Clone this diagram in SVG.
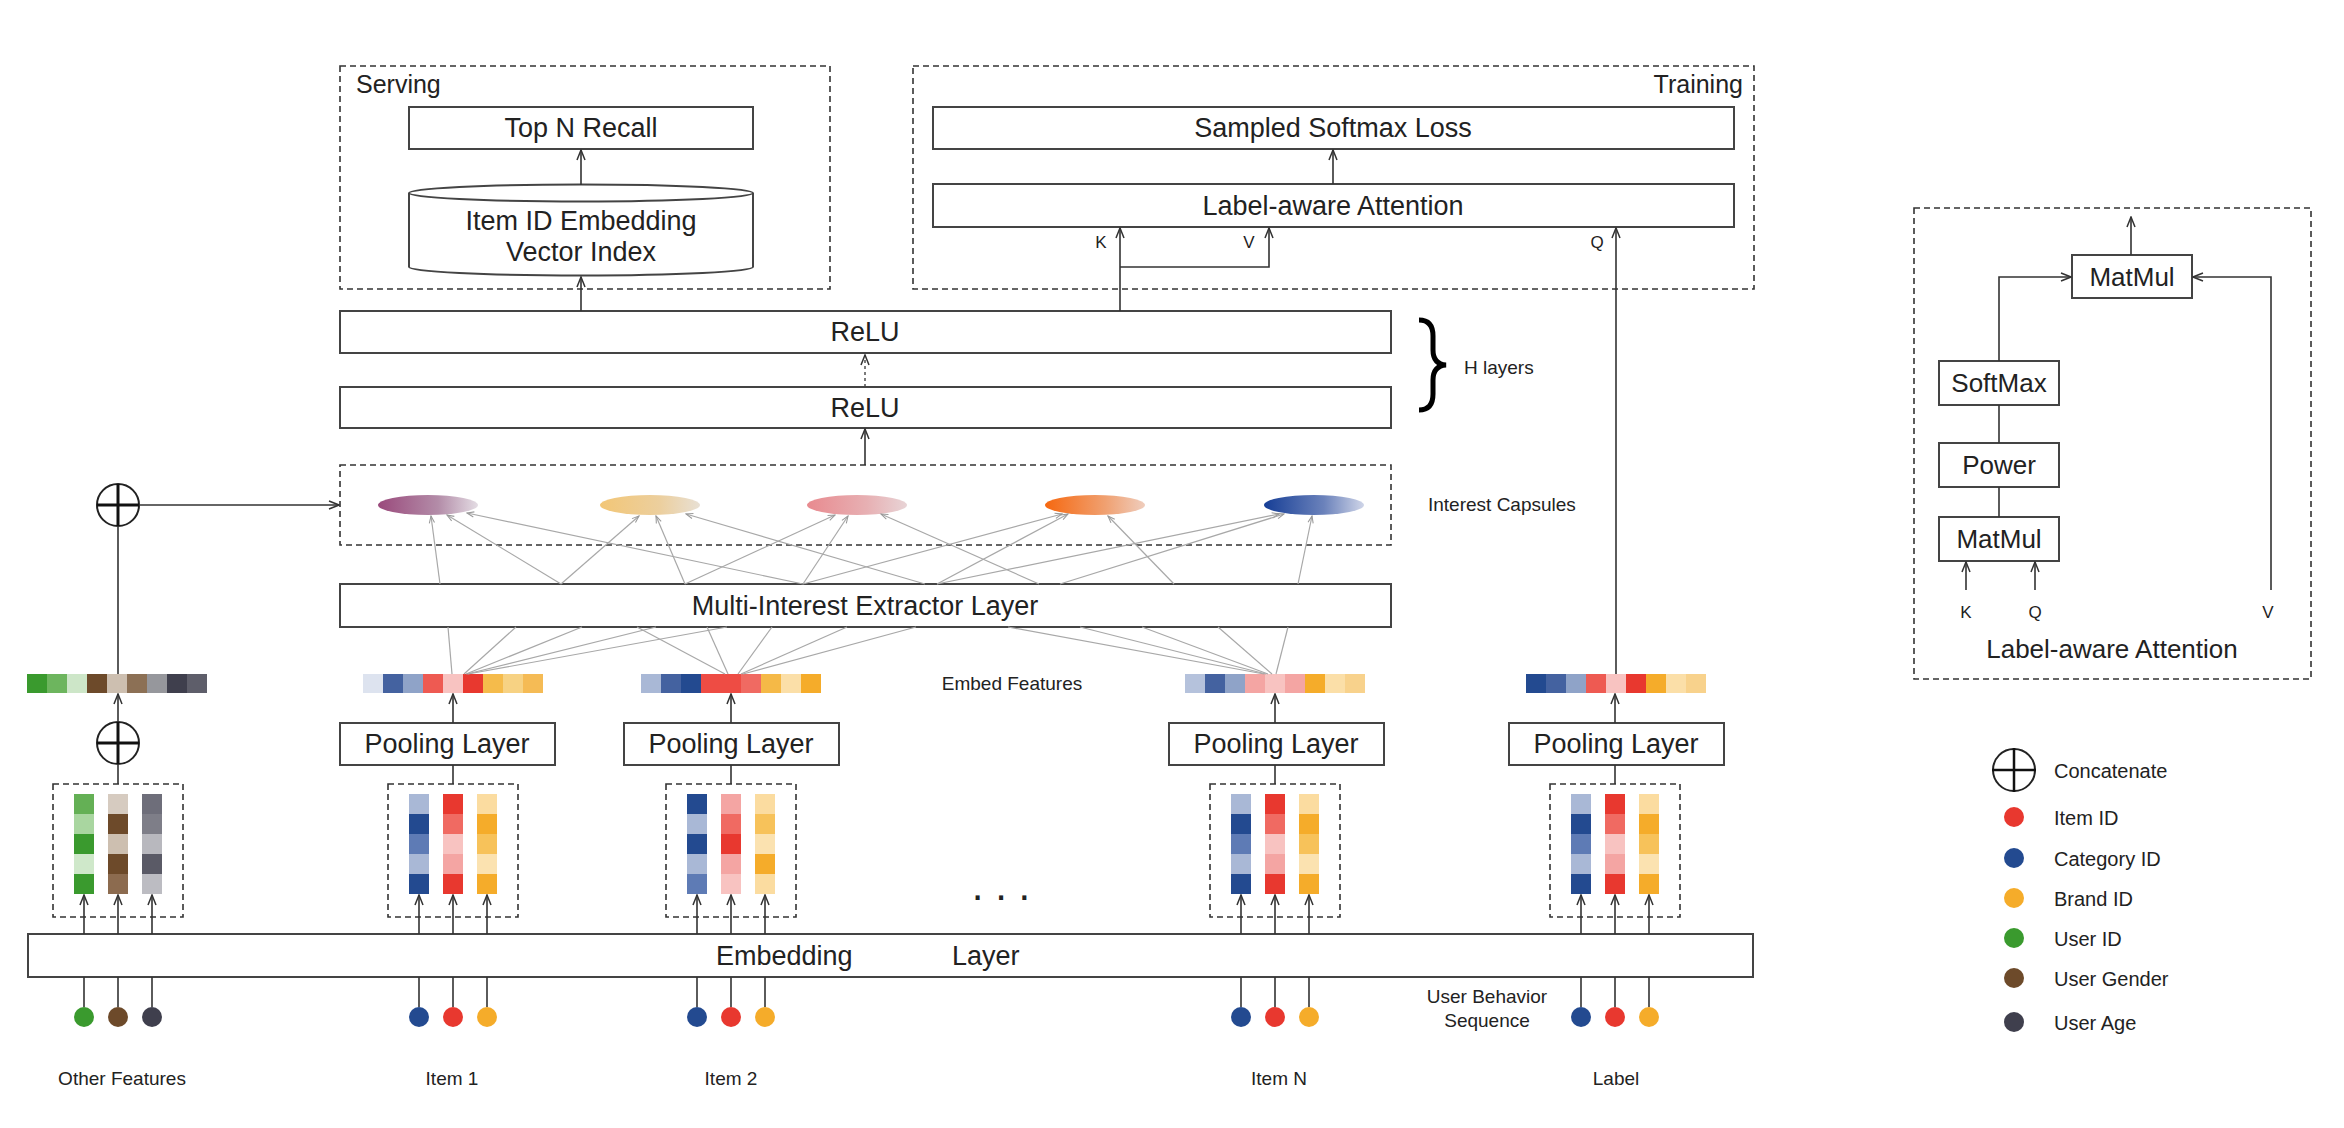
<svg xmlns="http://www.w3.org/2000/svg" width="2344" height="1128" viewBox="0 0 2344 1128">
<style>
.box{fill:#fff;stroke:#444;stroke-width:2}
.dash{fill:none;stroke:#333;stroke-width:1.6;stroke-dasharray:6 4}
.t{font-family:"Liberation Sans",Arial,sans-serif;fill:#222}
.lbl{font-size:27px;text-anchor:middle}
.sm{font-size:19px}
.mid{text-anchor:middle}
.ln{stroke:#333;stroke-width:1.6;fill:none}
.cap{stroke:#a8a8a8;stroke-width:1.2;fill:none}
.cc{fill:#fff;stroke:#222;stroke-width:2}
.cx{stroke:#111;stroke-width:3}
</style>
<defs>
<marker id="a" markerUnits="userSpaceOnUse" viewBox="0 0 12 10" refX="11" refY="5" markerWidth="12" markerHeight="10" orient="auto"><path d="M1,1 L11,5 L1,9" fill="none" stroke="#333" stroke-width="1.5"/></marker>
<marker id="g" markerUnits="userSpaceOnUse" viewBox="0 0 10 8" refX="9" refY="4" markerWidth="9" markerHeight="7" orient="auto"><path d="M1,1 L9,4 L1,7" fill="none" stroke="#999" stroke-width="1.2"/></marker>
<linearGradient id="gp"><stop offset="0" stop-color="#9a4a7c"/><stop offset="0.6" stop-color="#b38ca8"/><stop offset="1" stop-color="#e4dde4"/></linearGradient>
<linearGradient id="gy"><stop offset="0" stop-color="#f2c676"/><stop offset="0.6" stop-color="#eccf9e"/><stop offset="1" stop-color="#e8e0d4"/></linearGradient>
<linearGradient id="gk"><stop offset="0" stop-color="#e88a8f"/><stop offset="0.6" stop-color="#e7b0b3"/><stop offset="1" stop-color="#e8d4d6"/></linearGradient>
<linearGradient id="go"><stop offset="0" stop-color="#f66810"/><stop offset="0.6" stop-color="#f0a070"/><stop offset="1" stop-color="#efcdbd"/></linearGradient>
<linearGradient id="gb"><stop offset="0" stop-color="#163e96"/><stop offset="0.6" stop-color="#6b82bb"/><stop offset="1" stop-color="#cfd5e8"/></linearGradient>
</defs>

<g id="serving">
<rect class="dash" x="340" y="66" width="490" height="223"/>
<text class="t" x="356" y="93" font-size="25">Serving</text>
</g>
<g id="top-n-recall">
<rect class="box" x="409" y="107" width="344" height="42"/>
<text class="t lbl" x="581" y="137">Top N Recall</text>
</g>
<g id="item-index">
<path class="box" d="M409,193 L409,267 A172,8.5 0 0 0 753,267 L753,193 A172,8.5 0 0 0 409,193 Z"/>
<path d="M409,193 A172,8.5 0 0 0 753,193" fill="none" stroke="#444" stroke-width="2"/>
<text class="t lbl" x="581" y="230">Item ID Embedding</text>
<text class="t lbl" x="581" y="261">Vector Index</text>
</g>

<g id="training">
<rect class="dash" x="913" y="66" width="841" height="223"/>
<text class="t" x="1743" y="93" font-size="25" text-anchor="end">Training</text>
</g>
<g id="sampled-softmax">
<rect class="box" x="933" y="107" width="801" height="42"/>
<text class="t lbl" x="1333" y="137">Sampled Softmax Loss</text>
</g>
<g id="label-aware-attention">
<rect class="box" x="933" y="184" width="801" height="43"/>
<text class="t lbl" x="1333" y="215">Label-aware Attention</text>
</g>

<g id="relu1">
<rect class="box" x="340" y="311" width="1051" height="42"/>
<text class="t lbl" x="865" y="341">ReLU</text>
</g>
<g id="relu2">
<rect class="box" x="340" y="387" width="1051" height="41"/>
<text class="t lbl" x="865" y="417">ReLU</text>
</g>
<g id="h-layers">
<path d="M1419,320 Q1433,320 1433,336 L1433,350 Q1433,364 1446,365 Q1433,366 1433,380 L1433,394 Q1433,410 1419,410" fill="none" stroke="#000" stroke-width="5"/>
<text class="t sm" x="1464" y="374">H layers</text>
</g>

<g id="interest-capsules">
<rect class="dash" x="340" y="465" width="1051" height="80"/>
<ellipse cx="428" cy="505" rx="50" ry="10" fill="url(#gp)"/>
<ellipse cx="650" cy="505" rx="50" ry="10" fill="url(#gy)"/>
<ellipse cx="857" cy="505" rx="50" ry="10" fill="url(#gk)"/>
<ellipse cx="1095" cy="505" rx="50" ry="10" fill="url(#go)"/>
<ellipse cx="1314" cy="505" rx="50" ry="10" fill="url(#gb)"/>
<text class="t sm" x="1428" y="511">Interest Capsules</text>
</g>

<g id="extractor">
<rect class="box" x="340" y="584" width="1051" height="43"/>
<text class="t lbl" x="865" y="615">Multi-Interest Extractor Layer</text>
</g>

<g id="embed-bars">
<g id="bar-other">
<rect x="27" y="674" width="20" height="19" fill="#3a9a2e"/><rect x="47" y="674" width="20" height="19" fill="#6db55e"/><rect x="67" y="674" width="20" height="19" fill="#cde6c8"/><rect x="87" y="674" width="20" height="19" fill="#6d4a2a"/><rect x="107" y="674" width="20" height="19" fill="#cdbfb0"/><rect x="127" y="674" width="20" height="19" fill="#8c7055"/><rect x="147" y="674" width="20" height="19" fill="#96979c"/><rect x="167" y="674" width="20" height="19" fill="#3f3f4d"/><rect x="187" y="674" width="20" height="19" fill="#5e5e6a"/>
</g>
<g id="bar-item1">
<rect x="363" y="674" width="20" height="19" fill="#dde3ef"/><rect x="383" y="674" width="20" height="19" fill="#4462a0"/><rect x="403" y="674" width="20" height="19" fill="#8fa3c8"/><rect x="423" y="674" width="20" height="19" fill="#ee5a52"/><rect x="443" y="674" width="20" height="19" fill="#f8c3c1"/><rect x="463" y="674" width="20" height="19" fill="#e8382f"/><rect x="483" y="674" width="20" height="19" fill="#f5bb4b"/><rect x="503" y="674" width="20" height="19" fill="#f7d283"/><rect x="523" y="674" width="20" height="19" fill="#f5bb55"/>
</g>
<g id="bar-item2">
<rect x="641" y="674" width="20" height="19" fill="#a9b8d6"/><rect x="661" y="674" width="20" height="19" fill="#4462a0"/><rect x="681" y="674" width="20" height="19" fill="#234a90"/><rect x="701" y="674" width="20" height="19" fill="#ee4c44"/><rect x="721" y="674" width="20" height="19" fill="#ee4c44"/><rect x="741" y="674" width="20" height="19" fill="#f06a62"/><rect x="761" y="674" width="20" height="19" fill="#f5b947"/><rect x="781" y="674" width="20" height="19" fill="#fbdfa8"/><rect x="801" y="674" width="20" height="19" fill="#f5ac2a"/>
</g>
<g id="bar-itemN">
<rect x="1185" y="674" width="20" height="19" fill="#b5c2dc"/><rect x="1205" y="674" width="20" height="19" fill="#4462a0"/><rect x="1225" y="674" width="20" height="19" fill="#8fa3c8"/><rect x="1245" y="674" width="20" height="19" fill="#f4a5a3"/><rect x="1265" y="674" width="20" height="19" fill="#f8c3c1"/><rect x="1285" y="674" width="20" height="19" fill="#f4a5a3"/><rect x="1305" y="674" width="20" height="19" fill="#f5ac2a"/><rect x="1325" y="674" width="20" height="19" fill="#fbdfa8"/><rect x="1345" y="674" width="20" height="19" fill="#f8d28c"/>
</g>
<g id="bar-label">
<rect x="1526" y="674" width="20" height="19" fill="#234a90"/><rect x="1546" y="674" width="20" height="19" fill="#4462a0"/><rect x="1566" y="674" width="20" height="19" fill="#8fa3c8"/><rect x="1586" y="674" width="20" height="19" fill="#ee5a52"/><rect x="1606" y="674" width="20" height="19" fill="#f8c3c1"/><rect x="1626" y="674" width="20" height="19" fill="#e8382f"/><rect x="1646" y="674" width="20" height="19" fill="#f5ac2a"/><rect x="1666" y="674" width="20" height="19" fill="#fbdfa8"/><rect x="1686" y="674" width="20" height="19" fill="#f8d28c"/>
</g>
<text class="t sm mid" x="1012" y="690">Embed Features</text>
</g>

<g id="pooling-item1"><rect class="box" x="340" y="723" width="215" height="42"/><text class="t lbl" x="447" y="753">Pooling Layer</text></g>
<g id="pooling-item2"><rect class="box" x="624" y="723" width="215" height="42"/><text class="t lbl" x="731" y="753">Pooling Layer</text></g>
<g id="pooling-itemN"><rect class="box" x="1169" y="723" width="215" height="42"/><text class="t lbl" x="1276" y="753">Pooling Layer</text></g>
<g id="pooling-label"><rect class="box" x="1509" y="723" width="215" height="42"/><text class="t lbl" x="1616" y="753">Pooling Layer</text></g>

<g id="concat-top">
<circle class="cc" cx="118" cy="505" r="21"/>
<line class="cx" x1="97" y1="505" x2="139" y2="505"/><line class="cx" x1="118" y1="484" x2="118" y2="526"/>
</g>
<g id="concat-bottom">
<circle class="cc" cx="118" cy="743" r="21"/>
<line class="cx" x1="97" y1="743" x2="139" y2="743"/><line class="cx" x1="118" y1="722" x2="118" y2="764"/>
</g>

<g id="cols-other">
<rect class="dash" x="53" y="784" width="130" height="133"/>
<rect x="74" y="794" width="20" height="20" fill="#64b055"/><rect x="74" y="814" width="20" height="20" fill="#a9d6a0"/><rect x="74" y="834" width="20" height="20" fill="#3a9a2e"/><rect x="74" y="854" width="20" height="20" fill="#cfe8ca"/><rect x="74" y="874" width="20" height="20" fill="#3a9a2e"/>
<rect x="108" y="794" width="20" height="20" fill="#d6cbc0"/><rect x="108" y="814" width="20" height="20" fill="#6d4a2a"/><rect x="108" y="834" width="20" height="20" fill="#cdbfb0"/><rect x="108" y="854" width="20" height="20" fill="#6d4a2a"/><rect x="108" y="874" width="20" height="20" fill="#8c6b4f"/>
<rect x="142" y="794" width="20" height="20" fill="#6e6e7a"/><rect x="142" y="814" width="20" height="20" fill="#7e7e88"/><rect x="142" y="834" width="20" height="20" fill="#b8b8be"/><rect x="142" y="854" width="20" height="20" fill="#5a5a66"/><rect x="142" y="874" width="20" height="20" fill="#bcbcc2"/>
</g>
<g id="cols-item1">
<rect class="dash" x="388" y="784" width="130" height="133"/>
<rect x="409" y="794" width="20" height="20" fill="#a9b8d6"/><rect x="409" y="814" width="20" height="20" fill="#234a90"/><rect x="409" y="834" width="20" height="20" fill="#5e7bb5"/><rect x="409" y="854" width="20" height="20" fill="#a9b8d6"/><rect x="409" y="874" width="20" height="20" fill="#234a90"/>
<rect x="443" y="794" width="20" height="20" fill="#e8382f"/><rect x="443" y="814" width="20" height="20" fill="#f06a62"/><rect x="443" y="834" width="20" height="20" fill="#f8c3c1"/><rect x="443" y="854" width="20" height="20" fill="#f4a5a3"/><rect x="443" y="874" width="20" height="20" fill="#e8382f"/>
<rect x="477" y="794" width="20" height="20" fill="#fbdca0"/><rect x="477" y="814" width="20" height="20" fill="#f5ac2a"/><rect x="477" y="834" width="20" height="20" fill="#f7c25a"/><rect x="477" y="854" width="20" height="20" fill="#fbe2b0"/><rect x="477" y="874" width="20" height="20" fill="#f5ac2a"/>
</g>
<g id="cols-item2">
<rect class="dash" x="666" y="784" width="130" height="133"/>
<rect x="687" y="794" width="20" height="20" fill="#234a90"/><rect x="687" y="814" width="20" height="20" fill="#a9b8d6"/><rect x="687" y="834" width="20" height="20" fill="#234a90"/><rect x="687" y="854" width="20" height="20" fill="#a9b8d6"/><rect x="687" y="874" width="20" height="20" fill="#5e7bb5"/>
<rect x="721" y="794" width="20" height="20" fill="#f4a5a3"/><rect x="721" y="814" width="20" height="20" fill="#f06a62"/><rect x="721" y="834" width="20" height="20" fill="#e8382f"/><rect x="721" y="854" width="20" height="20" fill="#f4a5a3"/><rect x="721" y="874" width="20" height="20" fill="#f8c3c1"/>
<rect x="755" y="794" width="20" height="20" fill="#fbdca0"/><rect x="755" y="814" width="20" height="20" fill="#f7c25a"/><rect x="755" y="834" width="20" height="20" fill="#fbe2b0"/><rect x="755" y="854" width="20" height="20" fill="#f5ac2a"/><rect x="755" y="874" width="20" height="20" fill="#fbdca0"/>
</g>
<g id="cols-itemN">
<rect class="dash" x="1210" y="784" width="130" height="133"/>
<rect x="1231" y="794" width="20" height="20" fill="#a9b8d6"/><rect x="1231" y="814" width="20" height="20" fill="#234a90"/><rect x="1231" y="834" width="20" height="20" fill="#5e7bb5"/><rect x="1231" y="854" width="20" height="20" fill="#a9b8d6"/><rect x="1231" y="874" width="20" height="20" fill="#234a90"/>
<rect x="1265" y="794" width="20" height="20" fill="#e8382f"/><rect x="1265" y="814" width="20" height="20" fill="#f06a62"/><rect x="1265" y="834" width="20" height="20" fill="#f8c3c1"/><rect x="1265" y="854" width="20" height="20" fill="#f4a5a3"/><rect x="1265" y="874" width="20" height="20" fill="#e8382f"/>
<rect x="1299" y="794" width="20" height="20" fill="#fbdca0"/><rect x="1299" y="814" width="20" height="20" fill="#f5ac2a"/><rect x="1299" y="834" width="20" height="20" fill="#f7c25a"/><rect x="1299" y="854" width="20" height="20" fill="#fbe2b0"/><rect x="1299" y="874" width="20" height="20" fill="#f5ac2a"/>
</g>
<g id="cols-label">
<rect class="dash" x="1550" y="784" width="130" height="133"/>
<rect x="1571" y="794" width="20" height="20" fill="#a9b8d6"/><rect x="1571" y="814" width="20" height="20" fill="#234a90"/><rect x="1571" y="834" width="20" height="20" fill="#5e7bb5"/><rect x="1571" y="854" width="20" height="20" fill="#a9b8d6"/><rect x="1571" y="874" width="20" height="20" fill="#234a90"/>
<rect x="1605" y="794" width="20" height="20" fill="#e8382f"/><rect x="1605" y="814" width="20" height="20" fill="#f06a62"/><rect x="1605" y="834" width="20" height="20" fill="#f8c3c1"/><rect x="1605" y="854" width="20" height="20" fill="#f4a5a3"/><rect x="1605" y="874" width="20" height="20" fill="#e8382f"/>
<rect x="1639" y="794" width="20" height="20" fill="#fbdca0"/><rect x="1639" y="814" width="20" height="20" fill="#f5ac2a"/><rect x="1639" y="834" width="20" height="20" fill="#f7c25a"/><rect x="1639" y="854" width="20" height="20" fill="#fbe2b0"/><rect x="1639" y="874" width="20" height="20" fill="#f5ac2a"/>
</g>

<text class="t" x="1001" y="900" font-size="42" text-anchor="middle">. . .</text>

<g id="embedding-layer">
<rect class="box" x="28" y="934" width="1725" height="43"/>
<text class="t" x="716" y="965" font-size="27">Embedding</text>
<text class="t" x="952" y="965" font-size="27">Layer</text>
</g>

<g id="inputs">
<circle cx="84" cy="1017" r="10" fill="#3a9a2e"/><circle cx="118" cy="1017" r="10" fill="#6d4a2a"/><circle cx="152" cy="1017" r="10" fill="#3f3f4d"/>
<circle cx="419" cy="1017" r="10" fill="#234a90"/><circle cx="453" cy="1017" r="10" fill="#e8382f"/><circle cx="487" cy="1017" r="10" fill="#f5ac2a"/>
<circle cx="697" cy="1017" r="10" fill="#234a90"/><circle cx="731" cy="1017" r="10" fill="#e8382f"/><circle cx="765" cy="1017" r="10" fill="#f5ac2a"/>
<circle cx="1241" cy="1017" r="10" fill="#234a90"/><circle cx="1275" cy="1017" r="10" fill="#e8382f"/><circle cx="1309" cy="1017" r="10" fill="#f5ac2a"/>
<circle cx="1581" cy="1017" r="10" fill="#234a90"/><circle cx="1615" cy="1017" r="10" fill="#e8382f"/><circle cx="1649" cy="1017" r="10" fill="#f5ac2a"/>
<text class="t sm mid" x="122" y="1085">Other Features</text>
<text class="t sm mid" x="452" y="1085">Item 1</text>
<text class="t sm mid" x="731" y="1085">Item 2</text>
<text class="t sm mid" x="1279" y="1085">Item N</text>
<text class="t sm mid" x="1616" y="1085">Label</text>
<text class="t sm mid" x="1487" y="1003">User Behavior</text>
<text class="t sm mid" x="1487" y="1027">Sequence</text>
</g>

<g id="attention-detail">
<rect class="dash" x="1914" y="208" width="397" height="471"/>
<rect class="box" x="2072" y="255" width="120" height="43"/><text class="t mid" x="2132" y="286" font-size="26">MatMul</text>
<rect class="box" x="1939" y="361" width="120" height="44"/><text class="t mid" x="1999" y="392" font-size="26">SoftMax</text>
<rect class="box" x="1939" y="443" width="120" height="44"/><text class="t mid" x="1999" y="474" font-size="26">Power</text>
<rect class="box" x="1939" y="517" width="120" height="44"/><text class="t mid" x="1999" y="548" font-size="26">MatMul</text>
<text class="t mid" x="1966" y="618" font-size="17">K</text>
<text class="t mid" x="2035" y="618" font-size="17">Q</text>
<text class="t mid" x="2268" y="618" font-size="17">V</text>
<text class="t mid" x="2112" y="658" font-size="26">Label-aware Attention</text>
</g>

<g id="legend">
<circle class="cc" cx="2014" cy="770" r="21"/>
<line stroke="#111" stroke-width="2.5" x1="1992" y1="770" x2="2036" y2="770"/><line stroke="#111" stroke-width="2.5" x1="2014" y1="748" x2="2014" y2="792"/>
<text class="t" x="2054" y="778" font-size="20">Concatenate</text>
<circle cx="2014" cy="817" r="10" fill="#e8382f"/><text class="t" x="2054" y="825" font-size="20">Item ID</text>
<circle cx="2014" cy="858" r="10" fill="#234a90"/><text class="t" x="2054" y="866" font-size="20">Category ID</text>
<circle cx="2014" cy="898" r="10" fill="#f5ac2a"/><text class="t" x="2054" y="906" font-size="20">Brand ID</text>
<circle cx="2014" cy="938" r="10" fill="#3a9a2e"/><text class="t" x="2054" y="946" font-size="20">User ID</text>
<circle cx="2014" cy="978" r="10" fill="#6d4a2a"/><text class="t" x="2054" y="986" font-size="20">User Gender</text>
<circle cx="2014" cy="1022" r="10" fill="#3f3f4d"/><text class="t" x="2054" y="1030" font-size="20">User Age</text>
</g>

<g id="connectors">
<line class="ln" x1="581" y1="185" x2="581" y2="150" marker-end="url(#a)"/>
<line class="ln" x1="581" y1="311" x2="581" y2="277" marker-end="url(#a)"/>
<line class="ln" x1="1333" y1="184" x2="1333" y2="150" marker-end="url(#a)"/>
<line class="ln" x1="1120" y1="311" x2="1120" y2="228" marker-end="url(#a)"/>
<polyline class="ln" points="1120,267 1269,267 1269,228" marker-end="url(#a)"/>
<line class="ln" x1="1616" y1="674" x2="1616" y2="228" marker-end="url(#a)"/>
<text class="t" x="1101" y="248" font-size="17" text-anchor="middle">K</text>
<text class="t" x="1249" y="248" font-size="17" text-anchor="middle">V</text>
<text class="t" x="1597" y="248" font-size="17" text-anchor="middle">Q</text>
<line x1="865" y1="387" x2="865" y2="355" stroke="#444" stroke-width="1.4" stroke-dasharray="3 3" marker-end="url(#a)"/>
<line class="ln" x1="865" y1="465" x2="865" y2="429" marker-end="url(#a)"/>
<line class="ln" x1="139" y1="505" x2="339" y2="505" marker-end="url(#a)"/>
<line class="ln" x1="118" y1="674" x2="118" y2="526"/>
<line class="ln" x1="118" y1="722" x2="118" y2="694" marker-end="url(#a)"/>
<line class="ln" x1="118" y1="784" x2="118" y2="764"/>
<line class="ln" x1="453" y1="723" x2="453" y2="694" marker-end="url(#a)"/>
<line class="ln" x1="731" y1="723" x2="731" y2="694" marker-end="url(#a)"/>
<line class="ln" x1="1275" y1="723" x2="1275" y2="694" marker-end="url(#a)"/>
<line class="ln" x1="1615" y1="723" x2="1615" y2="694" marker-end="url(#a)"/>
<line class="ln" x1="453" y1="765" x2="453" y2="784"/>
<line class="ln" x1="731" y1="765" x2="731" y2="784"/>
<line class="ln" x1="1275" y1="765" x2="1275" y2="784"/>
<line class="ln" x1="1615" y1="765" x2="1615" y2="784"/>
<g id="emb-up">
<line class="ln" x1="84" y1="934" x2="84" y2="895" marker-end="url(#a)"/><line class="ln" x1="118" y1="934" x2="118" y2="895" marker-end="url(#a)"/><line class="ln" x1="152" y1="934" x2="152" y2="895" marker-end="url(#a)"/>
<line class="ln" x1="419" y1="934" x2="419" y2="895" marker-end="url(#a)"/><line class="ln" x1="453" y1="934" x2="453" y2="895" marker-end="url(#a)"/><line class="ln" x1="487" y1="934" x2="487" y2="895" marker-end="url(#a)"/>
<line class="ln" x1="697" y1="934" x2="697" y2="895" marker-end="url(#a)"/><line class="ln" x1="731" y1="934" x2="731" y2="895" marker-end="url(#a)"/><line class="ln" x1="765" y1="934" x2="765" y2="895" marker-end="url(#a)"/>
<line class="ln" x1="1241" y1="934" x2="1241" y2="895" marker-end="url(#a)"/><line class="ln" x1="1275" y1="934" x2="1275" y2="895" marker-end="url(#a)"/><line class="ln" x1="1309" y1="934" x2="1309" y2="895" marker-end="url(#a)"/>
<line class="ln" x1="1581" y1="934" x2="1581" y2="895" marker-end="url(#a)"/><line class="ln" x1="1615" y1="934" x2="1615" y2="895" marker-end="url(#a)"/><line class="ln" x1="1649" y1="934" x2="1649" y2="895" marker-end="url(#a)"/>
</g>
<g id="dot-lines">
<line class="ln" x1="84" y1="1007" x2="84" y2="977"/><line class="ln" x1="118" y1="1007" x2="118" y2="977"/><line class="ln" x1="152" y1="1007" x2="152" y2="977"/>
<line class="ln" x1="419" y1="1007" x2="419" y2="977"/><line class="ln" x1="453" y1="1007" x2="453" y2="977"/><line class="ln" x1="487" y1="1007" x2="487" y2="977"/>
<line class="ln" x1="697" y1="1007" x2="697" y2="977"/><line class="ln" x1="731" y1="1007" x2="731" y2="977"/><line class="ln" x1="765" y1="1007" x2="765" y2="977"/>
<line class="ln" x1="1241" y1="1007" x2="1241" y2="977"/><line class="ln" x1="1275" y1="1007" x2="1275" y2="977"/><line class="ln" x1="1309" y1="1007" x2="1309" y2="977"/>
<line class="ln" x1="1581" y1="1007" x2="1581" y2="977"/><line class="ln" x1="1615" y1="1007" x2="1615" y2="977"/><line class="ln" x1="1649" y1="1007" x2="1649" y2="977"/>
</g>
<g id="capsule-links">
<line class="cap" x1="440" y1="584" x2="431" y2="516" marker-end="url(#g)"/>
<line class="cap" x1="561" y1="584" x2="447" y2="515" marker-end="url(#g)"/>
<line class="cap" x1="803" y1="584" x2="467" y2="513" marker-end="url(#g)"/>
<line class="cap" x1="561" y1="584" x2="639" y2="516" marker-end="url(#g)"/>
<line class="cap" x1="685" y1="584" x2="656" y2="516" marker-end="url(#g)"/>
<line class="cap" x1="925" y1="584" x2="686" y2="514" marker-end="url(#g)"/>
<line class="cap" x1="685" y1="584" x2="835" y2="515" marker-end="url(#g)"/>
<line class="cap" x1="803" y1="584" x2="848" y2="516" marker-end="url(#g)"/>
<line class="cap" x1="1039" y1="584" x2="881" y2="514" marker-end="url(#g)"/>
<line class="cap" x1="803" y1="584" x2="1062" y2="514" marker-end="url(#g)"/>
<line class="cap" x1="937" y1="584" x2="1068" y2="514" marker-end="url(#g)"/>
<line class="cap" x1="1174" y1="584" x2="1108" y2="516" marker-end="url(#g)"/>
<line class="cap" x1="937" y1="584" x2="1279" y2="514" marker-end="url(#g)"/>
<line class="cap" x1="1060" y1="584" x2="1284" y2="514" marker-end="url(#g)"/>
<line class="cap" x1="1298" y1="584" x2="1312" y2="516" marker-end="url(#g)"/>
</g>
<g id="bar-links">
<line class="cap" x1="448" y1="627" x2="452" y2="674"/>
<line class="cap" x1="516" y1="627" x2="464" y2="674"/>
<line class="cap" x1="582" y1="627" x2="466" y2="674"/>
<line class="cap" x1="656" y1="627" x2="467" y2="674"/>
<line class="cap" x1="727" y1="627" x2="468" y2="674"/>
<line class="cap" x1="637" y1="627" x2="725" y2="674"/>
<line class="cap" x1="707" y1="627" x2="728" y2="674"/>
<line class="cap" x1="772" y1="627" x2="738" y2="674"/>
<line class="cap" x1="847" y1="627" x2="741" y2="674"/>
<line class="cap" x1="916" y1="627" x2="743" y2="674"/>
<line class="cap" x1="1008" y1="627" x2="1264" y2="674"/>
<line class="cap" x1="1080" y1="627" x2="1266" y2="674"/>
<line class="cap" x1="1142" y1="627" x2="1268" y2="674"/>
<line class="cap" x1="1218" y1="627" x2="1272" y2="674"/>
<line class="cap" x1="1288" y1="627" x2="1276" y2="674"/>
</g>
<g id="attention-links">
<line class="ln" x1="2131" y1="255" x2="2131" y2="217" marker-end="url(#a)"/>
<polyline class="ln" points="1999,361 1999,277 2071,277" marker-end="url(#a)"/>
<polyline class="ln" points="2271,590 2271,277 2193,277" marker-end="url(#a)"/>
<line class="ln" x1="1999" y1="405" x2="1999" y2="443"/>
<line class="ln" x1="1999" y1="487" x2="1999" y2="517"/>
<line class="ln" x1="1966" y1="590" x2="1966" y2="562" marker-end="url(#a)"/>
<line class="ln" x1="2035" y1="590" x2="2035" y2="562" marker-end="url(#a)"/>
</g>
</g>
</svg>
